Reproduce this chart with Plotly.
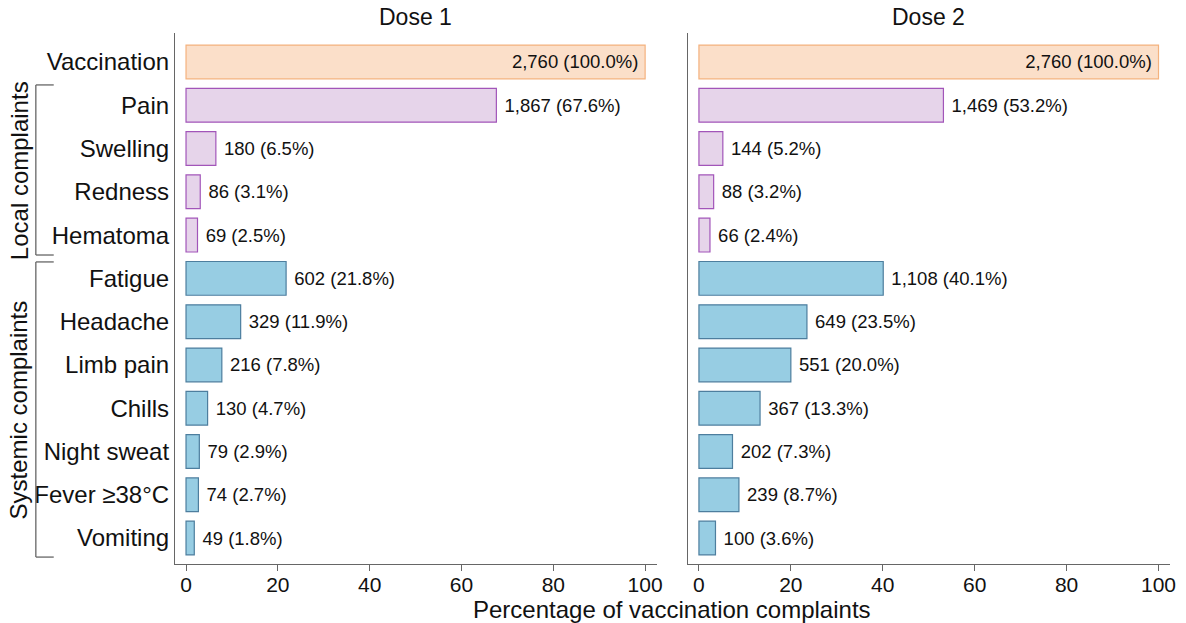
import plotly.graph_objects as go

categories = ["Vaccination", "Pain", "Swelling", "Redness", "Hematoma",
              "Fatigue", "Headache", "Limb pain", "Chills", "Night sweat",
              "Fever ≥38°C", "Vomiting"]
groups = ["total", "local", "local", "local", "local",
          "systemic", "systemic", "systemic", "systemic", "systemic", "systemic", "systemic"]
dose1_counts = [2760, 1867, 180, 86, 69, 602, 329, 216, 130, 79, 74, 49]
dose1_pct = [100.0, 67.6, 6.5, 3.1, 2.5, 21.8, 11.9, 7.8, 4.7, 2.9, 2.7, 1.8]
dose2_counts = [2760, 1469, 144, 88, 66, 1108, 649, 551, 367, 202, 239, 100]
dose2_pct = [100.0, 53.2, 5.2, 3.2, 2.4, 40.1, 23.5, 20.0, 13.3, 7.3, 8.7, 3.6]
x_ticks = [0, 20, 40, 60, 80, 100]
panel_titles = ["Dose 1", "Dose 2"]

fill = {"total": "#FBDFC9", "local": "#E6D4EA", "systemic": "#97CDE3"}
edge = {"total": "#F4B27E", "local": "#A255B9", "systemic": "#4D7E9E"}
FONT = "Liberation Sans, Arial, sans-serif"
INK = "#111"

fig = go.Figure()
for i, (counts, pct) in enumerate([(dose1_counts, dose1_pct), (dose2_counts, dose2_pct)]):
    texts = [(f"{c:,} ({p:.1f}%)\u2009" if g == "total" else f"\u00a0{c:,} ({p:.1f}%)")
             for c, p, g in zip(counts, pct, groups)]
    pos = ["inside" if g == "total" else "outside" for g in groups]
    fig.add_trace(go.Bar(
        x=pct, y=categories, orientation="h",
        marker=dict(color=[fill[g] for g in groups],
                    line=dict(color=[edge[g] for g in groups], width=1.2)),
        text=texts, textposition=pos, insidetextanchor="end",
        textfont=dict(family=FONT, size=18.5, color=INK),
        insidetextfont=dict(family=FONT, size=18.5, color=INK),
        outsidetextfont=dict(family=FONT, size=18.5, color=INK),
        cliponaxis=False, showlegend=False,
        xaxis="x" if i == 0 else "x2", yaxis="y" if i == 0 else "y2",
    ))

W, H = 1186, 623
ml, mr, mt, mb = 175, 10, 33, 59
pw = W - ml - mr
d1 = [0, (659.5 - ml) / pw]
d2 = [(691 - ml) / pw, 1]

xax = dict(range=[-2.4, 102.5], tickvals=x_ticks, ticks="outside", ticklen=6,
           tickcolor="#666", showline=True, linecolor="#666", linewidth=1.2,
           showgrid=False, zeroline=False, ticklabelstandoff=-4,
           tickfont=dict(family=FONT, size=21, color=INK))
yrange = [11.6, -0.67]
fig.update_layout(
    width=W, height=H, margin=dict(l=ml, r=mr, t=mt, b=mb),
    plot_bgcolor="white", paper_bgcolor="white", bargap=0.22,
    xaxis=dict(domain=d1, anchor="y", **xax),
    xaxis2=dict(domain=d2, anchor="y2", **xax),
    yaxis=dict(range=yrange, showline=True, linecolor="#666", linewidth=1.2,
               ticks="", ticklen=0, showgrid=False, zeroline=False, ticklabelstandoff=0,
               tickfont=dict(family=FONT, size=24, color=INK), anchor="x"),
    yaxis2=dict(range=yrange, showline=True, linecolor="#666", linewidth=1.2,
                ticks="", showgrid=False, zeroline=False, showticklabels=False,
                anchor="x2", matches="y"),
)

ann = []
for t, d in zip(panel_titles, [d1, d2]):
    ann.append(dict(text=t, x=(d[0] + d[1]) / 2, y=1, xref="paper", yref="paper",
                    xanchor="center", yanchor="middle", yshift=16, showarrow=False,
                    font=dict(family=FONT, size=23, color=INK)))
ann.append(dict(text="Percentage of vaccination complaints", x=(675 - ml) / pw, y=0,
                xref="paper", yref="paper", xanchor="center", yanchor="middle", yshift=-45,
                showarrow=False, font=dict(family=FONT, size=24, color=INK)))

bx = (35 - ml) / pw
bt = (53 - ml) / pw
tx = (18 - ml) / pw
brackets = [("Local complaints", 0.53, 4.46, 2.5), ("Systemic complaints", 4.62, 11.44, 8.03)]
shapes = []
for label, y0, y1, yc in brackets:
    for (xa, ya, xb, yb) in [(bx, y0, bx, y1), (bx, y0, bt, y0), (bx, y1, bt, y1)]:
        shapes.append(dict(type="line", xref="paper", yref="y", x0=xa, y0=ya, x1=xb, y1=yb,
                           line=dict(color="#666", width=1.3)))
    ann.append(dict(text=label, x=tx, y=yc, xref="paper", yref="y", textangle=-90,
                    xanchor="center", yanchor="middle",
                    showarrow=False, font=dict(family=FONT, size=24, color=INK)))
fig.update_layout(annotations=ann, shapes=shapes)

fig.write_html("out.html", config={"displayModeBar": False},
               post_script="document.body.style.margin='0px';document.body.style.overflow='hidden';")
